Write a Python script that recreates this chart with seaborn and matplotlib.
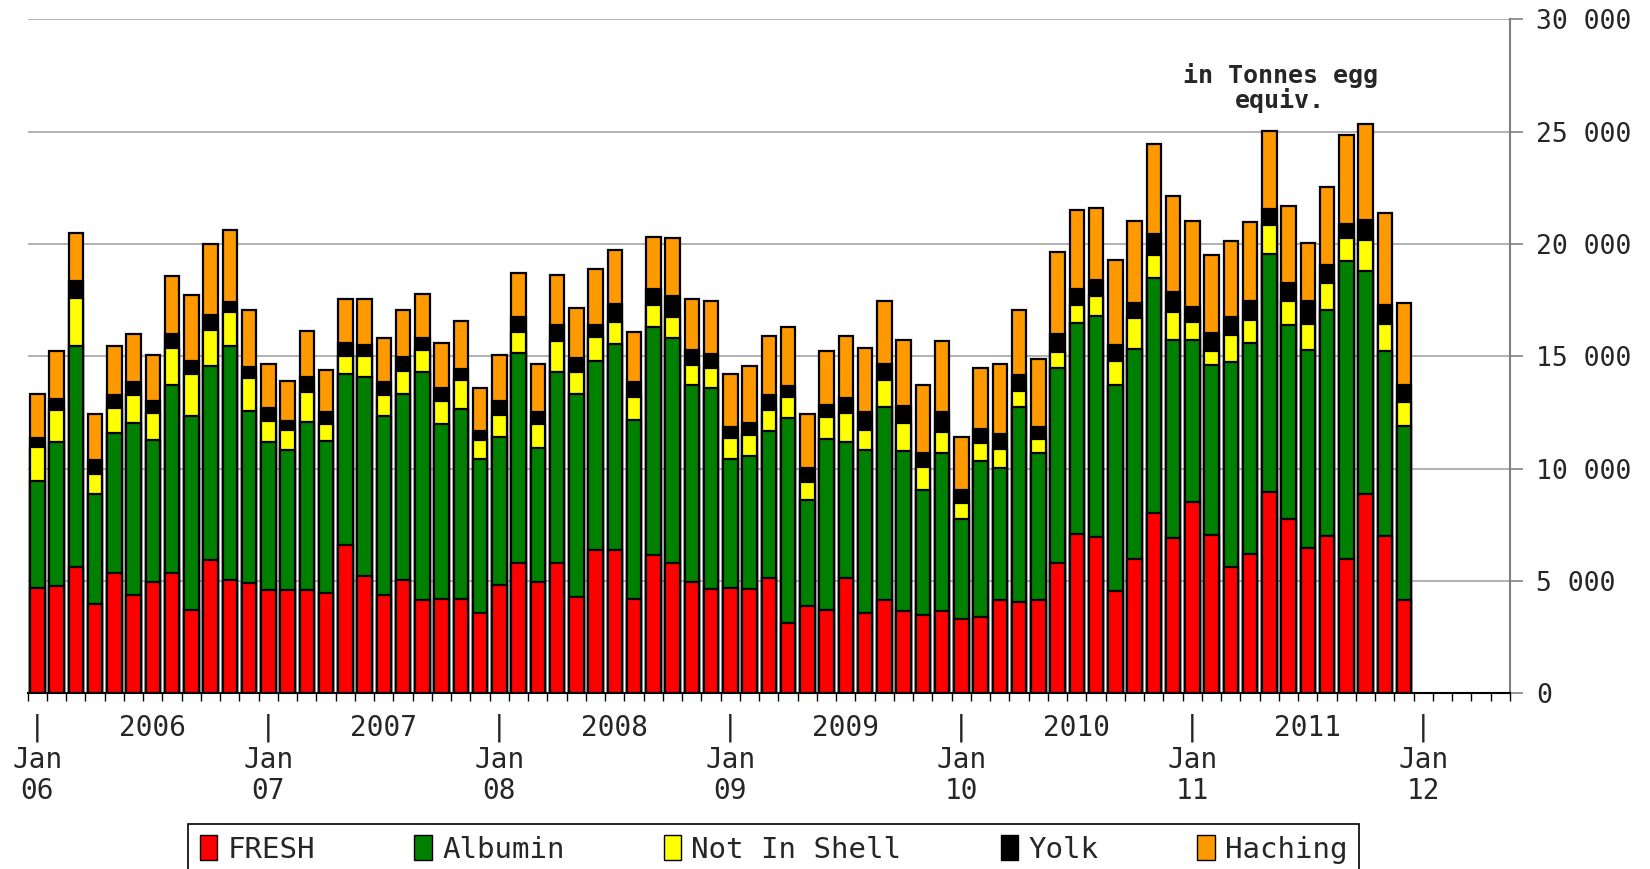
import numpy as np
import pandas as pd
import matplotlib
matplotlib.use("Agg")
import matplotlib.pyplot as plt
import matplotlib.transforms as mtransforms
from matplotlib.patches import Patch
from matplotlib.ticker import FuncFormatter
import seaborn as sns

# monthly exports, Jan 2006 - Dec 2011 (tonnes egg equivalent)
fresh = [4700, 4790, 5620, 3960, 5370, 4380, 4970, 5360, 3730, 5950, 5050, 4900,
         4620, 4620, 4620, 4470, 6600, 5210, 4380, 5040, 4140, 4220, 4220, 3560,
         4810, 5790, 4970, 5790, 4300, 6370, 6370, 4220, 6140, 5790, 4960, 4630,
         4700, 4630, 5140, 3150, 3890, 3730, 5140, 3560, 4140, 3650, 3490, 3650,
         3320, 3400, 4140, 4070, 4140, 5790, 7110, 6960, 4560, 5960, 8040, 6900,
         8520, 7040, 5640, 6220, 8950, 7780, 6480, 6990, 5970, 8870, 6990, 4140]
albumin = [4750, 6390, 9860, 4900, 6220, 7630, 6290, 8370, 8630, 8610, 10430, 7670,
           6560, 6210, 7460, 6780, 7630, 8870, 7980, 8300, 10150, 7770, 8440, 6870,
           6600, 9350, 5950, 8520, 9030, 8430, 9170, 7930, 10150, 10020, 8770, 8950,
           5730, 5950, 6520, 9110, 4720, 7610, 6040, 7270, 8610, 7120, 5550, 7040,
           4460, 6940, 5880, 8690, 6550, 8710, 9360, 9820, 9180, 9370, 10430, 8840,
           7220, 7560, 9110, 9350, 10610, 8620, 8780, 10090, 13260, 9940, 8240, 7760]
not_in_shell = [1530, 1450, 2120, 890, 1130, 1290, 1210, 1630, 1840, 1630, 1470, 1480,
                960, 890, 1310, 730, 800, 950, 940, 1010, 980, 1040, 1290, 860,
                970, 950, 1060, 1380, 950, 1050, 980, 1060, 970, 960, 890, 890,
                950, 910, 950, 950, 810, 980, 1290, 890, 1200, 1280, 1020, 950,
                690, 790, 870, 700, 620, 680, 790, 890, 1050, 1370, 1050, 1230,
                800, 630, 1210, 1050, 1260, 1080, 1190, 1180, 1030, 1360, 1220, 1060]
yolk = [370, 470, 730, 620, 550, 560, 550, 650, 570, 640, 470, 460,
        550, 390, 690, 550, 550, 480, 560, 640, 560, 580, 480, 390,
        640, 660, 530, 710, 650, 560, 810, 650, 740, 890, 650, 620,
        480, 520, 660, 470, 610, 520, 690, 780, 700, 730, 640, 870,
        570, 620, 640, 700, 560, 830, 740, 720, 720, 650, 910, 900,
        650, 800, 800, 820, 750, 780, 990, 800, 640, 900, 820, 780]
haching = [1990, 2140, 2170, 2050, 2210, 2120, 2040, 2540, 2960, 3170, 3220, 2540,
           1960, 1790, 2050, 1880, 1980, 2050, 1960, 2060, 1960, 1960, 2130, 1910,
           2040, 1960, 2140, 2220, 2210, 2470, 2420, 2200, 2310, 2600, 2270, 2380,
           2370, 2560, 2620, 2630, 2390, 2400, 2730, 2890, 2820, 2940, 3040, 3150,
           2390, 2730, 3120, 2890, 3030, 3610, 3530, 3190, 3790, 3680, 4000, 4260,
           3850, 3460, 3360, 3530, 3460, 3440, 2610, 3460, 3960, 4270, 4090, 3650]

series = ["FRESH", "Albumin", "Not In Shell", "Yolk", "Haching"]
colors = ["#ff0000", "#008000", "#ffff00", "#000000", "#ff9900"]
years = ["2006", "2007", "2008", "2009", "2010", "2011"]
jan_labels = ["06", "07", "08", "09", "10", "11", "12"]
n_slots = 77  # 72 months + empty months to mid 2012

df = pd.DataFrame({"FRESH": fresh, "Albumin": albumin, "Not In Shell": not_in_shell,
                   "Yolk": yolk, "Haching": haching})
df["pos"] = np.arange(len(df))
cum = df[series].cumsum(axis=1)

sns.set_style("white")
plt.rcParams["font.family"] = ["DejaVu Sans Mono"]

fig = plt.figure(figsize=(16.5, 8.69), dpi=100)
ax = fig.add_axes([0.0168, 0.202, 0.8983, 0.776])

# stacked bars: draw cumulative totals from tallest down
for name, color in reversed(list(zip(series, colors))):
    sns.barplot(x=df["pos"], y=cum[name], color=color, saturation=1,
                edgecolor="black", linewidth=1.6, width=0.75,
                errorbar=None, ax=ax)

ax.set_xlim(-0.5, n_slots - 0.5)
ax.set_ylim(0, 30000)
ax.set_xlabel("")
ax.set_ylabel("")

ax.set_xticks(np.arange(-0.5, n_slots, 1))
ax.set_xticklabels([])
ax.tick_params(axis="x", length=6, width=1, color="black", direction="out", bottom=True)

ax.yaxis.tick_right()
ax.set_yticks(range(0, 30001, 5000))
ax.yaxis.set_major_formatter(FuncFormatter(lambda v, p: f"{v:,.0f}".replace(",", " ")))
ax.tick_params(axis="y", length=9, width=1.2, color="#808080", direction="out",
               labelsize=19, pad=10, right=True, left=False)

ax.set_axisbelow(True)
ax.yaxis.grid(True, color="#a6a6a6", linewidth=1.2)
ax.xaxis.grid(False)

for s in ["left", "top"]:
    ax.spines[s].set_visible(False)
ax.spines["right"].set_color("#808080")
ax.spines["right"].set_linewidth(1.5)
ax.spines["bottom"].set_color("black")
ax.spines["bottom"].set_linewidth(1.5)

# two-level date axis under the bars
trans = mtransforms.blended_transform_factory(ax.transData, fig.transFigure)
for i, lab in enumerate(jan_labels):
    x = i * 12
    ax.text(x, 0.162, "|", transform=trans, ha="center", va="center", fontsize=20)
    ax.text(x, 0.1254, "Jan", transform=trans, ha="center", va="center", fontsize=20)
    ax.text(x, 0.0898, lab, transform=trans, ha="center", va="center", fontsize=20)
for i, yr in enumerate(years):
    ax.text(i * 12 + 6, 0.162, yr, transform=trans, ha="center", va="center", fontsize=20)

fig.text(0.7758, 0.899, "in Tonnes egg\nequiv.", ha="center", va="center",
         fontsize=18, fontweight="bold", linespacing=1.0)

handles = [Patch(facecolor=c, edgecolor="black", label=s) for s, c in zip(series, colors)]
leg = fig.legend(handles=handles, loc="upper center", bbox_to_anchor=(0.469, 0.052),
                 ncol=5, frameon=True, fancybox=False, edgecolor="black", framealpha=1,
                 fontsize=21, handlelength=0.6, handleheight=0.9, handletextpad=0.35,
                 columnspacing=3.4, borderpad=0.4, borderaxespad=0.0)
leg.get_frame().set_linewidth(1.2)

fig.savefig("out.png", dpi=100)
plt.close()
